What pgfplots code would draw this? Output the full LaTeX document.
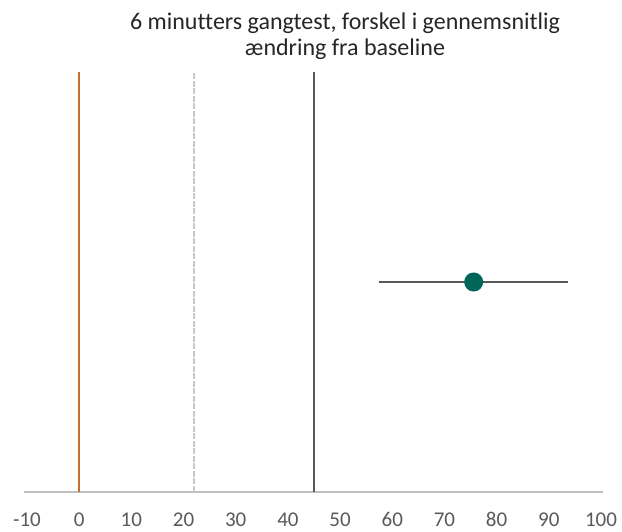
\documentclass[border=0pt]{standalone}
\usepackage{pgfplots}
\pgfplotsset{compat=1.18}
\usepackage{fontspec}
\setmainfont{Carlito}[Ligatures={NoCommon}]
\definecolor{orangeline}{RGB}{197,110,45}
\definecolor{darkline}{RGB}{89,89,89}
\definecolor{teal}{RGB}{0,102,90}
\definecolor{axisgray}{RGB}{191,191,191}
\definecolor{dashgray}{RGB}{200,200,200}
\begin{document}
\begin{tikzpicture}[x=1pt,y=1pt]
\path[use as bounding box] (0,0) rectangle (622,532);
\begin{axis}[
  at={(27pt,40pt)}, anchor=south west,
  scale only axis, width=574pt, height=420pt,
  xmin=-10, xmax=100, ymin=0, ymax=2,
  axis x line=bottom, axis y line=none,
  axis line style={-, axisgray, line width=2.5pt, shorten <=-3pt, shorten >=-2pt},
  xtick={-10,0,10,20,30,40,50,60,70,80,90,100},
  major tick length=0pt,
  xticklabel style={anchor=base, inner sep=1pt, yshift=-35pt, font=\fontsize{21}{25}\selectfont, text=darkline},
  /pgf/number format/assume math mode=true,
  clip=false,
]
\addplot[orangeline, line width=2pt] coordinates {(0,0) (0,2)};
\addplot[dashgray, line width=1.8pt, dash pattern=on 6pt off 1.5pt] coordinates {(22,0) (22,2)};
\addplot[darkline, line width=2pt] coordinates {(45,0) (45,2)};
\addplot[darkline, line width=2pt, mark=*, mark size=8.5pt,
  mark options={fill=teal, draw=teal},
  error bars/.cd, x dir=both, x explicit,
  error mark=none, error bar style={darkline, line width=2pt}]
  coordinates {(75.6,1) +- (18.1,0)};
\end{axis}
\node[anchor=base, font=\fontsize{24}{28}\selectfont, text=black!85] at (345,502) {6 minutters gangtest, forskel i gennemsnitlig};
\node[anchor=base, font=\fontsize{24}{28}\selectfont, text=black!85] at (345,476) {ændring fra baseline};
\end{tikzpicture}
\end{document}
